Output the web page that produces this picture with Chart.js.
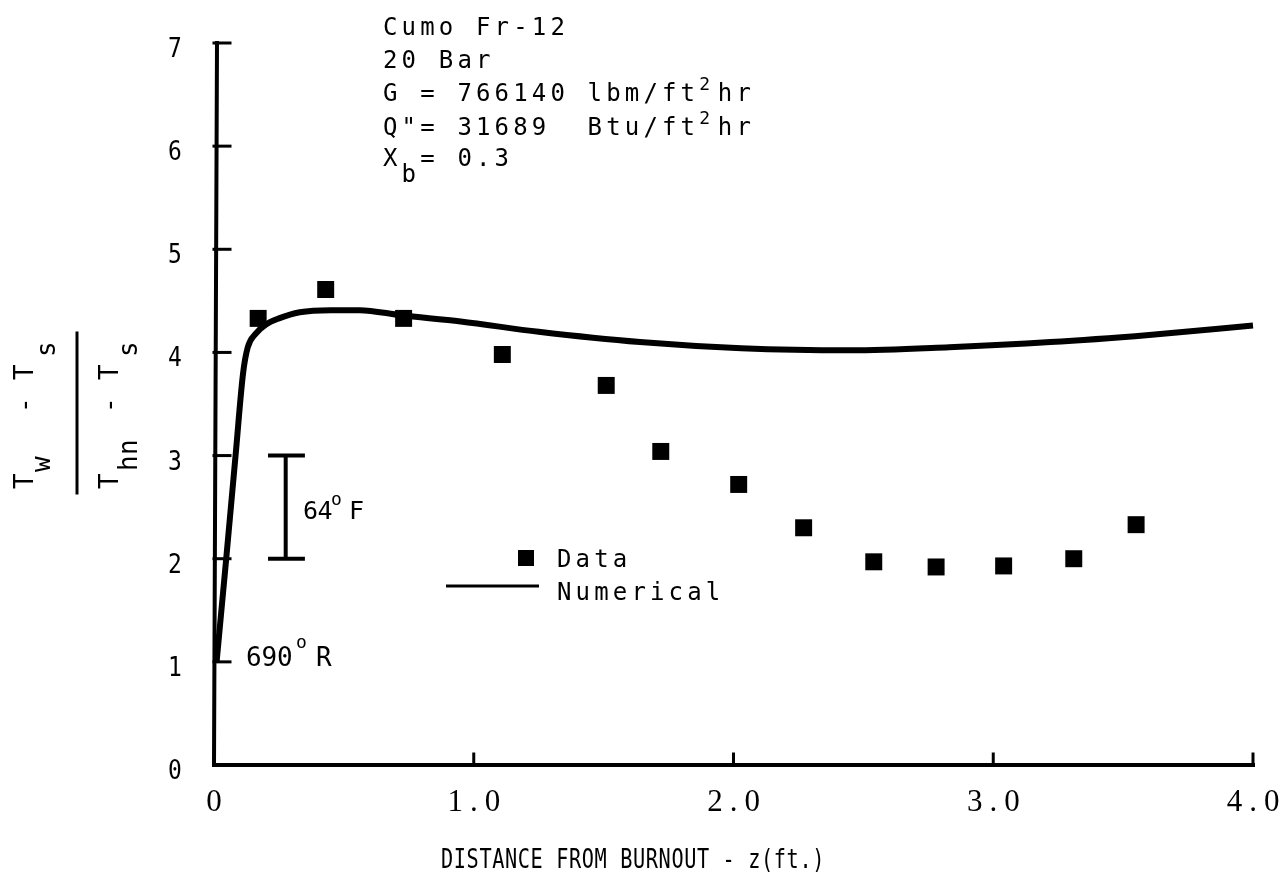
<!DOCTYPE html>
<html>
<head>
<meta charset="utf-8">
<script src="https://cdn.jsdelivr.net/npm/chart.js@4.4.1/dist/chart.umd.min.js"></script>
<style>
  html, body { margin: 0; padding: 0; background: #fff; }
</style>
</head>
<body>
<canvas id="chart" width="1284" height="891"></canvas>
<script>
// measured points (squares)
const dataX = [0.17, 0.43, 0.73, 1.11, 1.51, 1.72, 2.02, 2.27, 2.54, 2.78, 3.04, 3.31, 3.55];
const dataY = [4.33, 4.61, 4.33, 3.98, 3.68, 3.04, 2.72, 2.30, 1.97, 1.92, 1.93, 2.00, 2.33];

// numerical curve
const numX = [0.01, 0.047, 0.083, 0.112, 0.13, 0.16, 0.20, 0.25, 0.33, 0.45, 0.56, 0.72, 0.95, 1.25, 1.64, 2.03, 2.45, 2.83, 3.22, 3.60, 4.00];
const numY = [1.00, 2.00, 3.00, 3.80, 4.05, 4.18, 4.27, 4.33, 4.39, 4.41, 4.41, 4.36, 4.30, 4.20, 4.10, 4.04, 4.02, 4.05, 4.10, 4.17, 4.26];

const xTicks = [0, 1, 2, 3, 4];
const xTickLabels = ['0', '1.0', '2.0', '3.0', '4.0'];
const yTicks = [0, 1, 2, 3, 4, 5, 6, 7];
const yTickLabels = ['0', '1', '2', '3', '4', '5', '6', '7'];

const ink = '#000';
const mono = '"DejaVu Sans Mono", monospace';

// typewriter style: one glyph per fixed cell
function charRow(ctx, str, x, y, pitch, size, squeeze) {
  ctx.font = size + 'px ' + mono;
  for (let i = 0; i < str.length; i++) {
    ctx.save();
    ctx.translate(x + i * pitch, y);
    ctx.scale(squeeze || 1, 1);
    ctx.fillText(str[i], 0, 0);
    ctx.restore();
  }
  return x + str.length * pitch;
}

function pieces(ctx, parts, x, y, pitch) {
  parts.forEach(p => {
    x = charRow(ctx, p[0], x, y + p[1], pitch, p[2]);
  });
}

function line(ctx, x1, y1, x2, y2, w) {
  ctx.lineWidth = w;
  ctx.beginPath();
  ctx.moveTo(x1, y1);
  ctx.lineTo(x2, y2);
  ctx.stroke();
}

const paper = {
  id: 'paper',
  afterDraw(chart) {
    const ctx = chart.ctx;
    const xs = chart.scales.x, ys = chart.scales.y;
    const x0 = xs.getPixelForValue(0), x4 = xs.getPixelForValue(4);
    const y0 = ys.getPixelForValue(0), y7 = ys.getPixelForValue(7);
    ctx.save();
    ctx.strokeStyle = ink;
    ctx.fillStyle = ink;
    ctx.lineCap = 'square';

    // axes
    ctx.lineWidth = 4;
    ctx.beginPath();
    ctx.moveTo(x0 + 3, y7);
    ctx.lineTo(x0, y0);
    ctx.lineTo(x4, y0);
    ctx.stroke();
    yTicks.slice(1).forEach(v => {
      const py = ys.getPixelForValue(v);
      line(ctx, x0, py, x0 + 16, py, 3);
    });
    xTicks.slice(1).forEach(v => {
      const px = xs.getPixelForValue(v);
      line(ctx, px, y0, px, y0 - 11, 3);
    });

    // tick labels
    ctx.textAlign = 'center';
    yTicks.forEach((v, i) => {
      ctx.save();
      ctx.translate(175, ys.getPixelForValue(v) + 14);
      ctx.scale(0.85, 1);
      ctx.font = '27px ' + mono;
      ctx.fillText(yTickLabels[i], 0, 0);
      ctx.restore();
    });
    ctx.font = '31px "Liberation Serif", serif';
    xTicks.forEach((v, i) => {
      const s = xTickLabels[i];
      const gap = 7;
      const ws = [...s].map(c => ctx.measureText(c).width);
      let px = xs.getPixelForValue(v) - (ws.reduce((a, b) => a + b, 0) + gap * (s.length - 1)) / 2;
      ctx.textAlign = 'left';
      [...s].forEach((c, k) => { ctx.fillText(c, px, 811); px += ws[k] + gap; });
    });
    ctx.textAlign = 'left';

    // axis titles
    const xt = 'DISTANCE FROM BURNOUT - z(ft.)';
    charRow(ctx, xt, 633 - xt.length * 12.8 / 2, 868, 12.8, 27, 0.75);

    ctx.save();
    ctx.translate(0, 413);
    ctx.rotate(-Math.PI / 2);
    charRow(ctx, 'T', -76, 33, 16, 26);
    charRow(ctx, 'w', -59, 50, 16, 26);
    charRow(ctx, '-', 0, 33, 16, 26);
    charRow(ctx, 'T', 33, 33, 16, 26);
    charRow(ctx, 's', 56, 55, 16, 26);
    line(ctx, -80, 77, 80, 77, 3);
    charRow(ctx, 'T', -76, 118, 16, 26);
    charRow(ctx, 'hn', -58, 137, 16, 26);
    charRow(ctx, '-', 0, 118, 16, 26);
    charRow(ctx, 'T', 33, 118, 16, 26);
    charRow(ctx, 's', 56, 137, 16, 26);
    ctx.restore();

    // run conditions
    const p = 18.6, tx = 383;
    charRow(ctx, 'Cumo Fr-12', tx, 35, p, 24);
    charRow(ctx, '20 Bar', tx, 68, p, 24);
    pieces(ctx, [['G = 766140 lbm/ft', 0, 24], ['2', -11, 18], ['hr', 0, 24]], tx, 101, p);
    pieces(ctx, [['Q"= 31689  Btu/ft', 0, 24], ['2', -11, 18], ['hr', 0, 24]], tx, 135, p);
    pieces(ctx, [['X', 0, 24], ['b', 16, 24], ['= 0.3', 0, 24]], tx, 166, p);

    // 64 F scale bar
    const ex = xs.getPixelForValue(0.276);
    const ca = xs.getPixelForValue(0.208), cb = xs.getPixelForValue(0.35);
    const e2 = ys.getPixelForValue(2), e3 = ys.getPixelForValue(3);
    ctx.lineCap = 'butt';
    line(ctx, ex, e3, ex, e2, 4);
    line(ctx, ca, e3, cb, e3, 4);
    line(ctx, ca, e2, cb, e2, 4);
    charRow(ctx, '64', 303, 519, 14.5, 25);
    charRow(ctx, 'o', 331, 505, 10, 18);
    charRow(ctx, 'F', 349, 519, 14.5, 25);

    // 690 R reference
    charRow(ctx, '690', 246, 666, 15.5, 26);
    charRow(ctx, 'o', 296, 648, 10, 18);
    charRow(ctx, 'R', 316, 666, 15.5, 26);

    // legend
    ctx.fillRect(518, 550, 16, 16);
    charRow(ctx, 'Data', 557, 567, p, 24);
    line(ctx, 446, 586, 539, 586, 3);
    charRow(ctx, 'Numerical', 557, 600, p, 24);
    ctx.restore();
  }
};

new Chart(document.getElementById('chart'), {
  type: 'scatter',
  data: {
    datasets: [
      {
        label: 'Numerical',
        data: numX.map((x, i) => ({ x: x, y: numY[i] })),
        showLine: true,
        borderColor: ink,
        borderWidth: 6,
        pointRadius: 0,
        cubicInterpolationMode: 'monotone',
        clip: false
      },
      {
        label: 'Data',
        data: dataX.map((x, i) => ({ x: x, y: dataY[i] })),
        pointStyle: 'rect',
        pointRadius: 12,
        backgroundColor: ink,
        borderWidth: 0
      }
    ]
  },
  options: {
    responsive: false,
    animation: false,
    events: [],
    layout: { padding: { left: 0, top: 43, right: 31, bottom: 0 } },
    plugins: { legend: { display: false }, tooltip: { enabled: false } },
    scales: {
      x: {
        type: 'linear', min: 0, max: 4,
        grid: { display: false }, border: { display: false },
        ticks: { display: false },
        afterFit: s => { s.height = 126; }
      },
      y: {
        type: 'linear', min: 0, max: 7,
        grid: { display: false }, border: { display: false },
        ticks: { display: false },
        afterFit: s => { s.width = 214; }
      }
    }
  },
  plugins: [paper]
});
</script>
</body>
</html>
